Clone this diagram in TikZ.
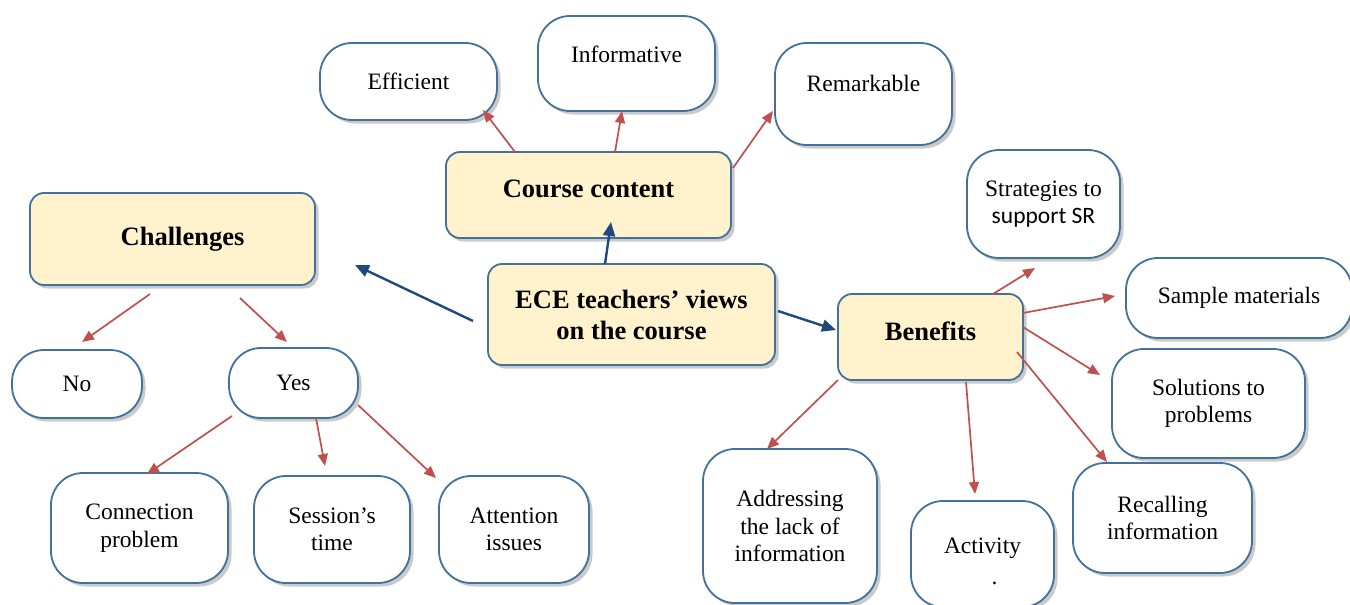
\documentclass[tikz,border=0pt]{standalone}
\usepackage{fontspec}
\setmainfont{Liberation Serif}
\newfontfamily\calfont{Carlito}
\usetikzlibrary{shadows,arrows.meta,calc}
\definecolor{bordblue}{RGB}{65,113,156}
\definecolor{fillyel}{RGB}{255,242,204}
\definecolor{redline}{RGB}{192,80,77}
\definecolor{darkblue}{RGB}{31,73,125}
\tikzset{
  base/.style={draw=bordblue, line width=1.8pt, align=center, inner sep=2pt,
    drop shadow={shadow xshift=3.5pt, shadow yshift=-3.5pt, opacity=0.35, fill=black!60}},
  wbox/.style={base, fill=white, rounded corners=32pt,
    font=\fontsize{23.5}{27.5}\selectfont},
  ybox/.style={base, fill=fillyel, rounded corners=14pt,
    font=\bfseries\fontsize{26.5}{31}\selectfont},
  redarr/.style={draw=redline, line width=1.7pt, -{Triangle[length=12pt,width=10pt]}},
  bluearr/.style={draw=darkblue, line width=2.4pt, -{Triangle[length=14pt,width=12pt]}}
}
\begin{document}
\begin{tikzpicture}[x=1pt,y=-1pt]
\useasboundingbox (0,0) rectangle (1350,605);
% Main nodes
\node[ybox, minimum width=285pt, minimum height=86pt, text depth=12pt] (cc) at (588.5,195) {Course content};
\node[ybox, minimum width=285pt, minimum height=92pt] (ch) at (172.5,239) {\hspace*{20pt}Challenges};
\node[ybox, minimum width=287pt, minimum height=101pt] (ece) at (631.5,314.5) {ECE teachers’ views\\on the course};
\node[ybox, minimum width=185pt, minimum height=86pt, text depth=12pt] (ben) at (930.5,337) {Benefits};
% Course content children
\node[wbox, minimum width=177pt, minimum height=77pt] (eff) at (408.5,81.5) {Efficient};
\node[wbox, minimum width=177pt, minimum height=95pt, text depth=18pt] (inf) at (626.5,63.5) {Informative};
\node[wbox, minimum width=177pt, minimum height=102pt, text depth=22pt] (rem) at (863.5,94) {Remarkable};
% Benefits children
\node[wbox, minimum width=153pt, minimum height=108pt] (str) at (1043.5,204) {Strategies to\\{\calfont support SR}};
\node[wbox, minimum width=226pt, minimum height=80pt] (sam) at (1239,298) {Sample materials};
\node[wbox, minimum width=193pt, minimum height=109pt] (sol) at (1208.5,403.5) {Solutions to\\problems};
\node[wbox, minimum width=179pt, minimum height=110pt] (rec) at (1162.5,518) {Recalling\\information};
\node[wbox, minimum width=143pt, minimum height=106pt] (act) at (982.5,554) {\rule{0pt}{30pt}Activity\\[4pt]\hspace*{24pt}.};
\node[wbox, minimum width=174pt, minimum height=154pt] (add) at (790,526) {Addressing\\the lack of\\information};
% Challenges children
\node[wbox, minimum width=130pt, minimum height=68pt] (no) at (77,384) {No};
\node[wbox, minimum width=129pt, minimum height=70pt] (yes) at (293.5,383) {Yes};
\node[wbox, minimum width=177pt, minimum height=110pt] (con) at (139.5,528) {Connection\\problem};
\node[wbox, minimum width=156pt, minimum height=107pt] (ses) at (332,529.5) {Session’s\\time};
\node[wbox, minimum width=150pt, minimum height=107pt] (att) at (514,529.5) {Attention\\issues};
% Red arrows
\draw[redarr] ($(cc)+(-73.5,-43)$) -- ($(eff)+(74.5,28.5)$);
\draw[redarr] ($(cc)+(26.5,-43)$) -- ($(inf)+(-4.5,47.5)$);
\draw[redarr] ($(cc)+(144.5,-27)$) -- ($(rem)+(-90.5,17)$);
\draw[redarr] ($(ch)+(-22.5,55)$) -- ($(no)+(5,-42)$);
\draw[redarr] ($(ch)+(67.5,59)$) -- ($(yes)+(-6.5,-41)$);
\draw[redarr] ($(yes)+(-61.5,33)$) -- ($(con)+(7.5,-54)$);
\draw[redarr] ($(yes)+(22.5,35)$) -- ($(ses)+(-7,-63.5)$);
\draw[redarr] ($(yes)+(64.5,22)$) -- ($(att)+(-78,-51.5)$);
\draw[redarr] ($(ben)+(62.5,-43)$) -- ($(str)+(-8.5,64)$);
\draw[redarr] ($(ben)+(92.5,-24)$) -- ($(sam)+(-124,-2)$);
\draw[redarr] ($(ben)+(92.5,-10)$) -- ($(sol)+(-108.5,-28.5)$);
\draw[redarr] ($(ben)+(86.5,15)$) -- ($(rec)+(-55.5,-56)$);
\draw[redarr] ($(ben)+(35.5,45)$) -- ($(act)+(-7.5,-60)$);
\draw[redarr] ($(ben)+(-92.5,43)$) -- ($(add)+(-23,-77)$);
% Blue arrows
\draw[bluearr] ($(ece)+(-26.5,-50.5)$) -- ($(cc)+(22.5,27)$);
\draw[bluearr] ($(ece)+(-158.5,6.5)$) -- ($(ch)+(182.5,26)$);
\draw[bluearr] ($(ece)+(146.5,-3.5)$) -- ($(ben)+(-94.5,-7)$);
\end{tikzpicture}
\end{document}
